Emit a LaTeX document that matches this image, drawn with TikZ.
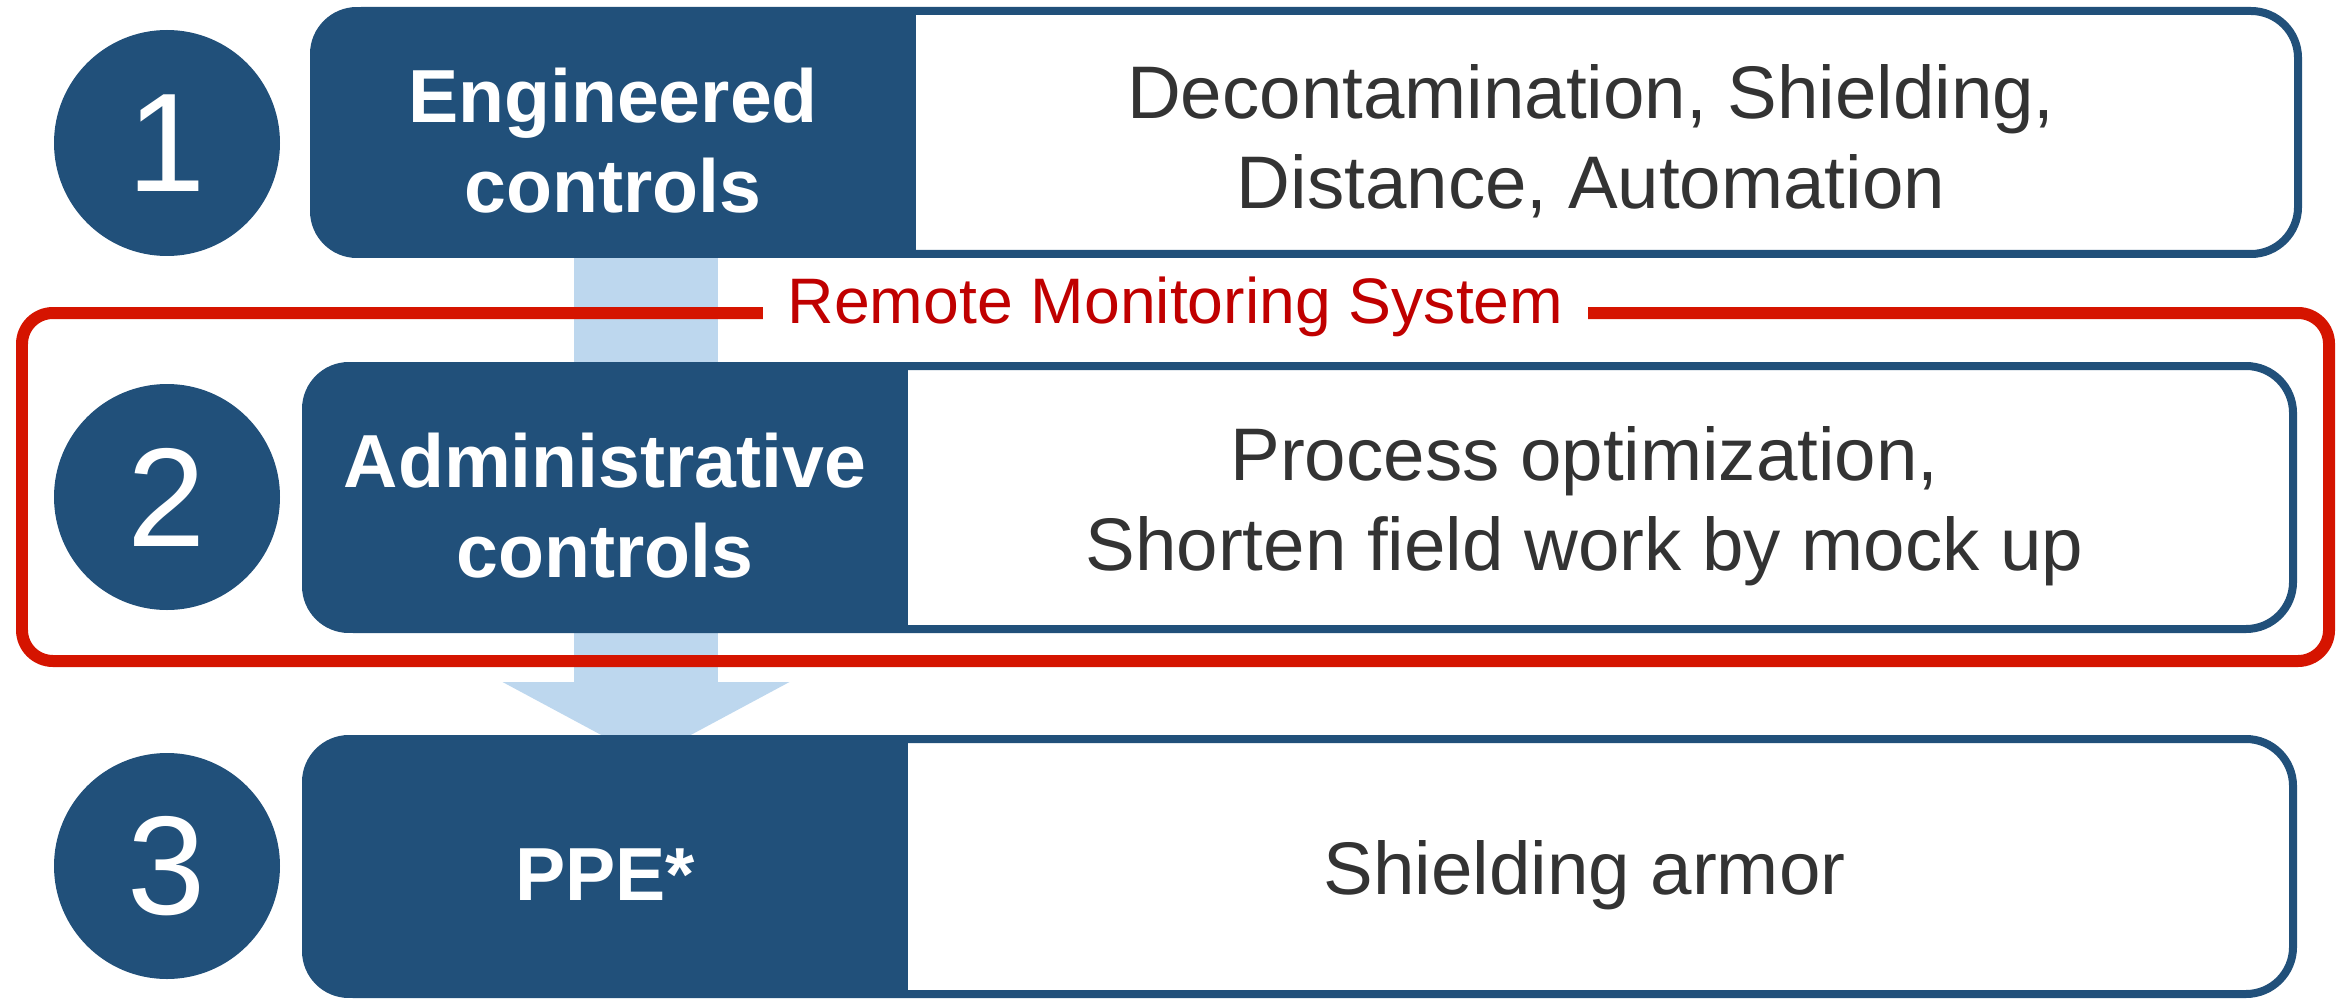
\documentclass[tikz,border=0pt]{standalone}
\usepackage{fontspec}
\setmainfont{Liberation Sans}
\usetikzlibrary{arrows.meta}
\definecolor{navy}{RGB}{33,80,122}
\definecolor{flowblue}{RGB}{189,215,238}
\definecolor{monred}{RGB}{213,20,0}
\definecolor{labred}{RGB}{192,0,0}
\definecolor{txtgray}{RGB}{51,51,51}

\begin{document}
\begin{tikzpicture}[
rowbox/.style={draw=navy,line width=0.08cm,fill=white,rounded corners=0.47cm},
numdisc/.style={circle,fill=navy,minimum size=2.26cm,inner sep=0pt,text=white,font=\fontsize{40}{48}\selectfont},
ctrl/.style={yshift=-0.08cm,text=white,font=\bfseries\fontsize{21.4}{25.7}\selectfont,align=center},
meas/.style={yshift=-0.09cm,text=txtgray,font=\fontsize{21.2}{25.7}\selectfont,align=center},
flow/.style={draw=flowblue,line width=1.44cm,-{Triangle[width=2.87cm,length=0.77cm,line width=0pt]}},
monbox/.style={draw=monred,line width=0.12cm,rounded corners=0.31cm},
monlabel/.style={fill=white,text=labred,font=\fontsize{18.3}{22}\selectfont,inner xsep=0.25cm,inner ysep=0pt}]
\useasboundingbox (0,0) rectangle (23.51,10.01);
\coordinate (flowtop) at (6.46,7.43);
\coordinate (flowtip) at (6.46,2.42);
\draw[flow] (flowtop) -- (flowtip);

\node[rowbox,minimum width=19.84cm,minimum height=2.43cm] (row1) at (13.06,8.685) {};
\node[rowbox,minimum width=19.87cm,minimum height=2.63cm] (row2) at (12.995,5.035) {};
\node[rowbox,minimum width=19.87cm,minimum height=2.55cm] (row3) at (12.995,1.345) {};
\foreach \r in {row1,row2,row3}{
\begin{scope}
\clip[rounded corners=0.47cm] (\r.south west) rectangle (\r.north east);
\fill[navy] (\r.south west) rectangle ([xshift=6.06cm]\r.north west);
\end{scope}}

\node[numdisc] (n1) at (1.67,8.58) {1};
\node[numdisc] (n2) at (1.67,5.04) {2};
\node[numdisc] (n3) at (1.67,1.35) {3};
\node[ctrl] (engctrl) at ([xshift=3.03cm]row1.west) {Engineered\\controls};
\node[ctrl] (admctrl) at ([xshift=3.03cm]row2.west) {Administrative\\controls};
\node[ctrl] (ppectrl) at ([xshift=3.03cm]row3.west) {PPE*};
\node[meas] (engmeas) at ([xshift=2.85cm]row1.center) {Decontamination, Shielding,\\Distance, Automation};
\node[meas] (admmeas) at ([xshift=2.85cm]row2.center) {Process optimization,\\Shorten field work by mock up};
\node[meas] (ppemeas) at ([xshift=2.85cm]row3.center) {Shielding armor};

\node[monbox,minimum width=23.07cm,minimum height=3.48cm] (monitor) at (11.755,5.14) {};
\node[monlabel] (monlbl) at (monitor.north) {Remote Monitoring System};
\end{tikzpicture}
\end{document}
